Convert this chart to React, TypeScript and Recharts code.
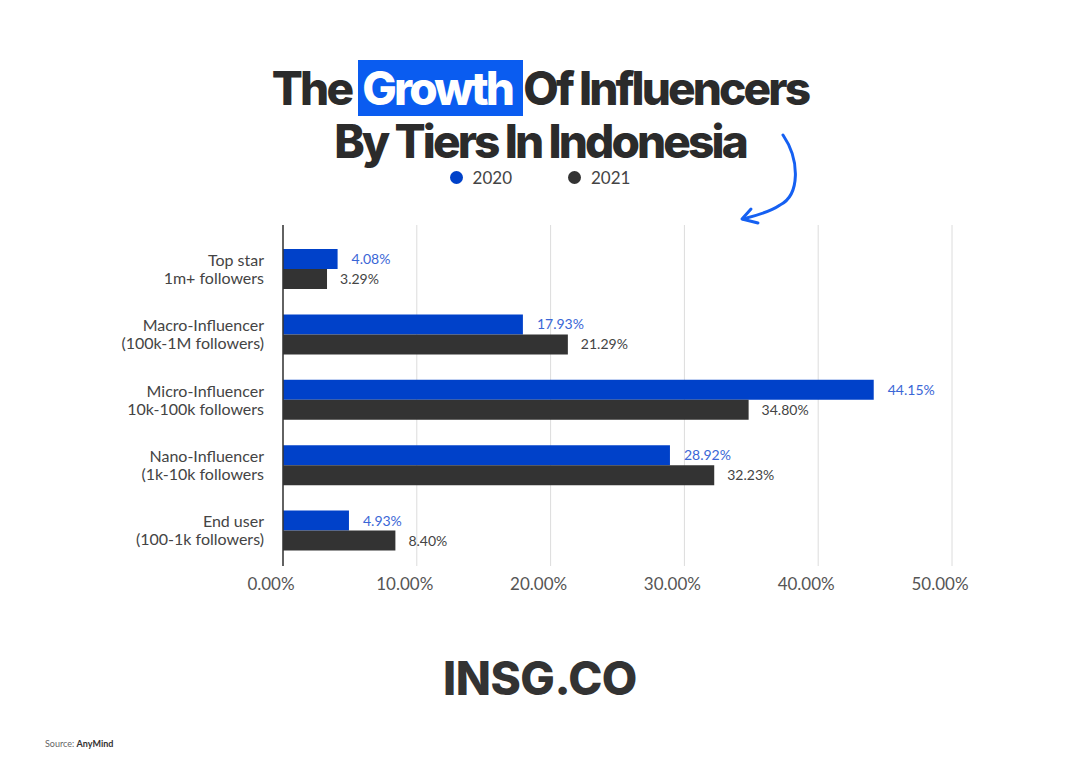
import React from 'react';
import { BarChart, Bar, XAxis, YAxis, CartesianGrid, Legend, LabelList } from 'recharts';

const tiers = [
  'Top star\n1m+ followers',
  'Macro-Influencer\n(100k-1M followers)',
  'Micro-Influencer\n10k-100k followers',
  'Nano-Influencer\n(1k-10k followers',
  'End user\n(100-1k followers)',
];
const share2020 = [4.08, 17.93, 44.15, 28.92, 4.93];
const share2021 = [3.29, 21.29, 34.8, 32.23, 8.4];
const xTicks = [0, 10, 20, 30, 40, 50];

const BLUE = '#0041c9';
const DARK = '#333333';
const FONT = 'Lato, "Open Sans", sans-serif';

const data = tiers.map((name, i) => ({ name, y2020: share2020[i], y2021: share2021[i] }));

const pct = (v: any) => `${Number(v).toFixed(2)}%`;

const TierTick = (props: any) => {
  const { x, y, payload } = props;
  const lines = String(payload.value).split('\n');
  return (
    <text x={x} y={y} textAnchor="end" fill="#444" fontSize={16} fontFamily={FONT}>
      {lines.map((l, i) => (
        <tspan key={i} x={x} dy={i === 0 ? -3 : 18}>
          {l}
        </tspan>
      ))}
    </text>
  );
};

const LegendDots = (props: any) => {
  const items = props.payload || [];
  return (
    <div style={{ display: 'flex', justifyContent: 'center', fontFamily: FONT, fontSize: 17, color: '#444' }}>
      {items.map((it: any, i: number) => (
        <div key={i} style={{ display: 'flex', alignItems: 'center', marginLeft: i === 0 ? 0 : 56 }}>
          <span style={{ width: 13, height: 13, borderRadius: '50%', background: it.color, display: 'inline-block', marginRight: 10 }} />
          <span>{it.value}</span>
        </div>
      ))}
    </div>
  );
};

const App = () => {
  return (
    <div style={{ position: 'absolute', left: 0, top: 0, width: 1080, height: 766, background: '#fff', overflow: 'hidden' }}>
      <div
        style={{
          position: 'absolute',
          top: 62,
          left: 0,
          width: 1080,
          textAlign: 'center',
          fontFamily: 'Inter, sans-serif',
          fontWeight: 800,
          fontSize: 46,
          letterSpacing: -2.9,
          lineHeight: '53px',
          color: '#2b2b2b',
        }}
      >
        <div>
          The{' '}
          <span style={{ background: '#0a5cf0', color: '#fff', padding: '0 4px' }}>Growth </span>
          Of Influencers
        </div>
        <div>By Tiers In Indonesia</div>
      </div>

      <svg width={1080} height={766} style={{ position: 'absolute', left: 0, top: 0, pointerEvents: 'none' }}>
        <path d="M783 135 C 800 160, 800 195, 780 205 C 770 212, 755 216, 743 219" fill="none" stroke="#1560f2" strokeWidth={3} strokeLinecap="round" />
        <path d="M751 209 L 742 219 L 758 223" fill="none" stroke="#1560f2" strokeWidth={3} strokeLinecap="round" strokeLinejoin="round" />
      </svg>

      <div style={{ position: 'absolute', left: 0, top: 0 }}>
        <BarChart
          width={1080}
          height={766}
          data={data}
          layout="vertical"
          margin={{ top: 225, right: 128, bottom: 170, left: 0 }}
          barCategoryGap="19%"
          barGap={0}
          style={{ fontFamily: FONT }}
        >
          <CartesianGrid horizontal={false} stroke="#dcdcdc" />
          <XAxis
            type="number"
            domain={[0, 50]}
            ticks={xTicks}
            tickFormatter={pct}
            axisLine={false}
            tickLine={false}
            tickSize={0}
            tickMargin={12}
            height={30}
            tick={{ fill: '#555', fontSize: 17, dx: -12 }}
          />
          <YAxis
            type="category"
            dataKey="name"
            width={283}
            tickLine={false}
            tickSize={0}
            tickMargin={19}
            axisLine={{ stroke: '#333', strokeWidth: 1.5 }}
            padding={{ top: 11, bottom: 3 }}
            tick={<TierTick />}
            interval={0}
          />
          <Legend
            verticalAlign="middle"
            align="center"
            wrapperStyle={{ top: 167, left: 0, width: 1080 }}
            content={<LegendDots />}
          />
          <Bar dataKey="y2020" name="2020" fill={BLUE} barSize={20} isAnimationActive={false}>
            <LabelList dataKey="y2020" position="right" offset={14} formatter={pct} fill="#3a66d6" fontSize={14} />
          </Bar>
          <Bar dataKey="y2021" name="2021" fill={DARK} barSize={20} isAnimationActive={false}>
            <LabelList dataKey="y2021" position="right" offset={13} formatter={pct} fill="#444" fontSize={14} />
          </Bar>
        </BarChart>
      </div>

      <div
        style={{
          position: 'absolute',
          top: 650,
          left: 0,
          width: 1080,
          textAlign: 'center',
          fontFamily: 'Inter, sans-serif',
          fontWeight: 800,
          fontSize: 46,
          letterSpacing: -0.5,
          color: '#333',
        }}
      >
        INSG.CO
      </div>
      <div style={{ position: 'absolute', top: 738, left: 45, fontFamily: FONT, fontSize: 9, color: '#666' }}>
        Source: <b style={{ color: '#333' }}>AnyMind</b>
      </div>
    </div>
  );
};

export default App;
